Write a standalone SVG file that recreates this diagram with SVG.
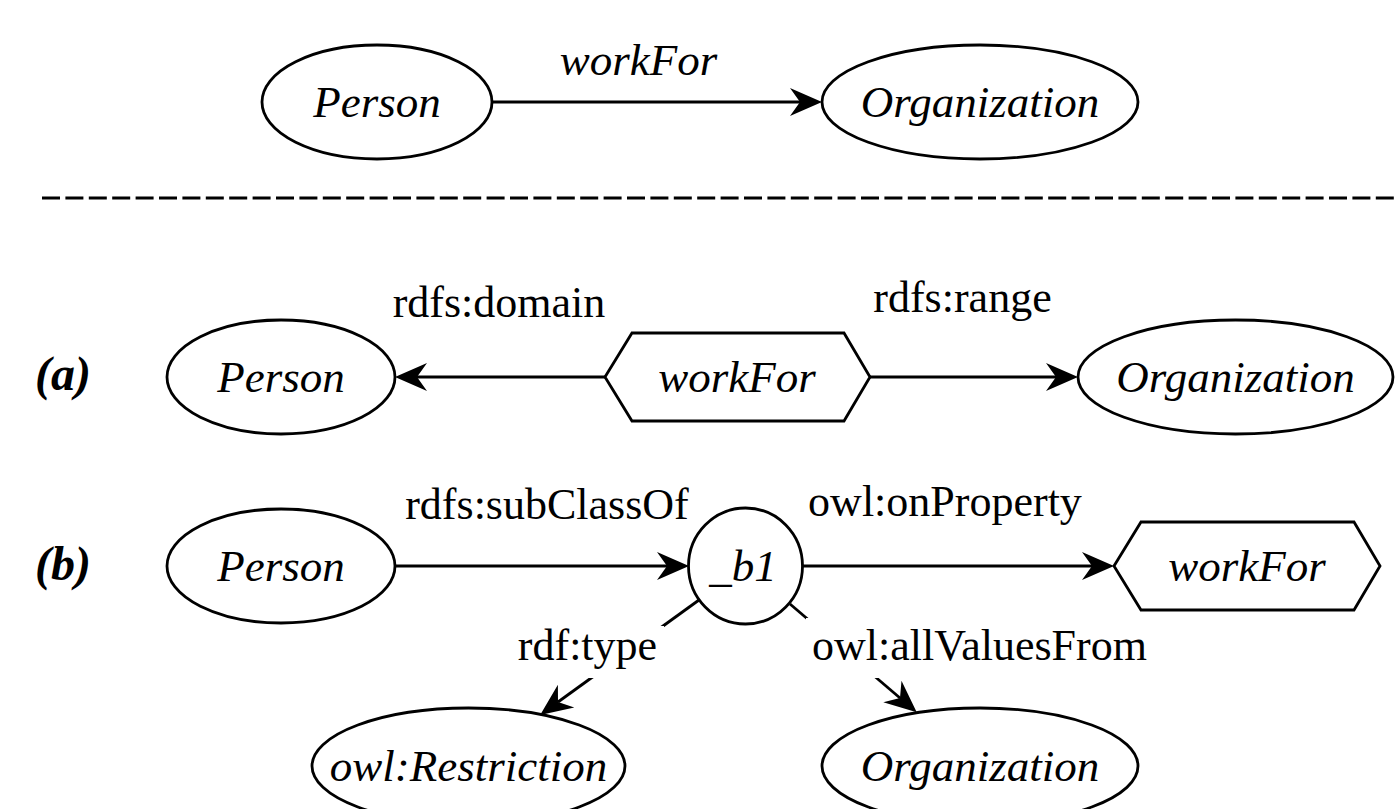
<svg xmlns="http://www.w3.org/2000/svg" width="1397" height="809" viewBox="0 0 1397 809">
<style>
.shape{fill:#fff;stroke:#000;stroke-width:2.8}
.edge{fill:none;stroke:#000;stroke-width:2.8}
.node{font-family:"Liberation Serif",serif;font-style:italic;font-size:45px;text-anchor:middle;fill:#000}
.lbl{font-family:"Liberation Serif",serif;font-size:44px;text-anchor:middle;fill:#000}
.tag{font-family:"Liberation Serif",serif;font-style:italic;font-weight:bold;font-size:48px;fill:#000}
</style>
<defs>
<marker id="arr" markerUnits="userSpaceOnUse" markerWidth="40" markerHeight="40" refX="0" refY="0" orient="auto" overflow="visible">
<path d="M-10,-14 L22,0 L-10,14 L0,0 Z" fill="#000"/>
</marker>
</defs>
<rect width="1397" height="809" fill="#fff"/>
<line x1="42" y1="198" x2="1397" y2="198" stroke="#000" stroke-width="3" stroke-dasharray="18 5.4"/>
<g id="connectors">
<line class="edge" x1="492" y1="102" x2="800" y2="102" marker-end="url(#arr)"/>
<line class="edge" x1="605" y1="377" x2="417" y2="377" marker-end="url(#arr)"/>
<line class="edge" x1="870" y1="377" x2="1056" y2="377" marker-end="url(#arr)"/>
<line class="edge" x1="395" y1="566" x2="667" y2="566" marker-end="url(#arr)"/>
<line class="edge" x1="803" y1="566" x2="1092" y2="566" marker-end="url(#arr)"/>
<line class="edge" x1="699" y1="600" x2="558" y2="702" marker-end="url(#arr)"/>
<line class="edge" x1="790" y1="604" x2="900" y2="698" marker-end="url(#arr)"/>
<text class="lbl" x="638.5" y="75" style="font-style:italic;font-size:45px">workFor</text>
<text class="lbl" x="499" y="317">rdfs:domain</text>
<text class="lbl" x="962.5" y="312">rdfs:range</text>
<text class="lbl" x="547" y="519">rdfs:subClassOf</text>
<text class="lbl" x="945" y="516">owl:onProperty</text>
<rect x="508" y="626" width="156" height="52" fill="#fff"/>
<text class="lbl" x="587.5" y="660">rdf:type</text>
<rect x="806" y="618" width="348" height="60" fill="#fff"/>
<text class="lbl" x="979.5" y="660">owl:allValuesFrom</text>
</g>
<g id="tag-a"><text class="tag" x="35" y="390">(a)</text></g>
<g id="tag-b"><text class="tag" x="35" y="580">(b)</text></g>
<g id="top-person"><ellipse class="shape" cx="377" cy="102" rx="115" ry="57"/><text class="node" x="377" y="117">Person</text></g>
<g id="top-organization"><ellipse class="shape" cx="980" cy="102" rx="158" ry="57"/><text class="node" x="980" y="117">Organization</text></g>
<g id="a-person"><ellipse class="shape" cx="281" cy="377" rx="114" ry="57"/><text class="node" x="281" y="392">Person</text></g>
<g id="a-workfor"><polygon class="shape" points="605,377 632,333 844,333 870,377 844,421 632,421"/><text class="node" x="737" y="392">workFor</text></g>
<g id="a-organization"><ellipse class="shape" cx="1235.5" cy="377" rx="157.5" ry="57"/><text class="node" x="1235.5" y="392">Organization</text></g>
<g id="b-person"><ellipse class="shape" cx="281" cy="566" rx="114" ry="57"/><text class="node" x="281" y="581">Person</text></g>
<g id="b-b1"><ellipse class="shape" cx="745.5" cy="566" rx="57" ry="58"/><text class="node" x="743" y="581">_b1</text></g>
<g id="b-workfor"><polygon class="shape" points="1114,566 1141,522 1354,522 1380,566 1354,610 1141,610"/><text class="node" x="1247" y="581">workFor</text></g>
<g id="b-restriction"><ellipse class="shape" cx="468.5" cy="766" rx="156.5" ry="58"/><text class="node" x="468.5" y="781">owl:Restriction</text></g>
<g id="b-organization"><ellipse class="shape" cx="980" cy="766" rx="158" ry="58"/><text class="node" x="980" y="781">Organization</text></g>
</svg>
